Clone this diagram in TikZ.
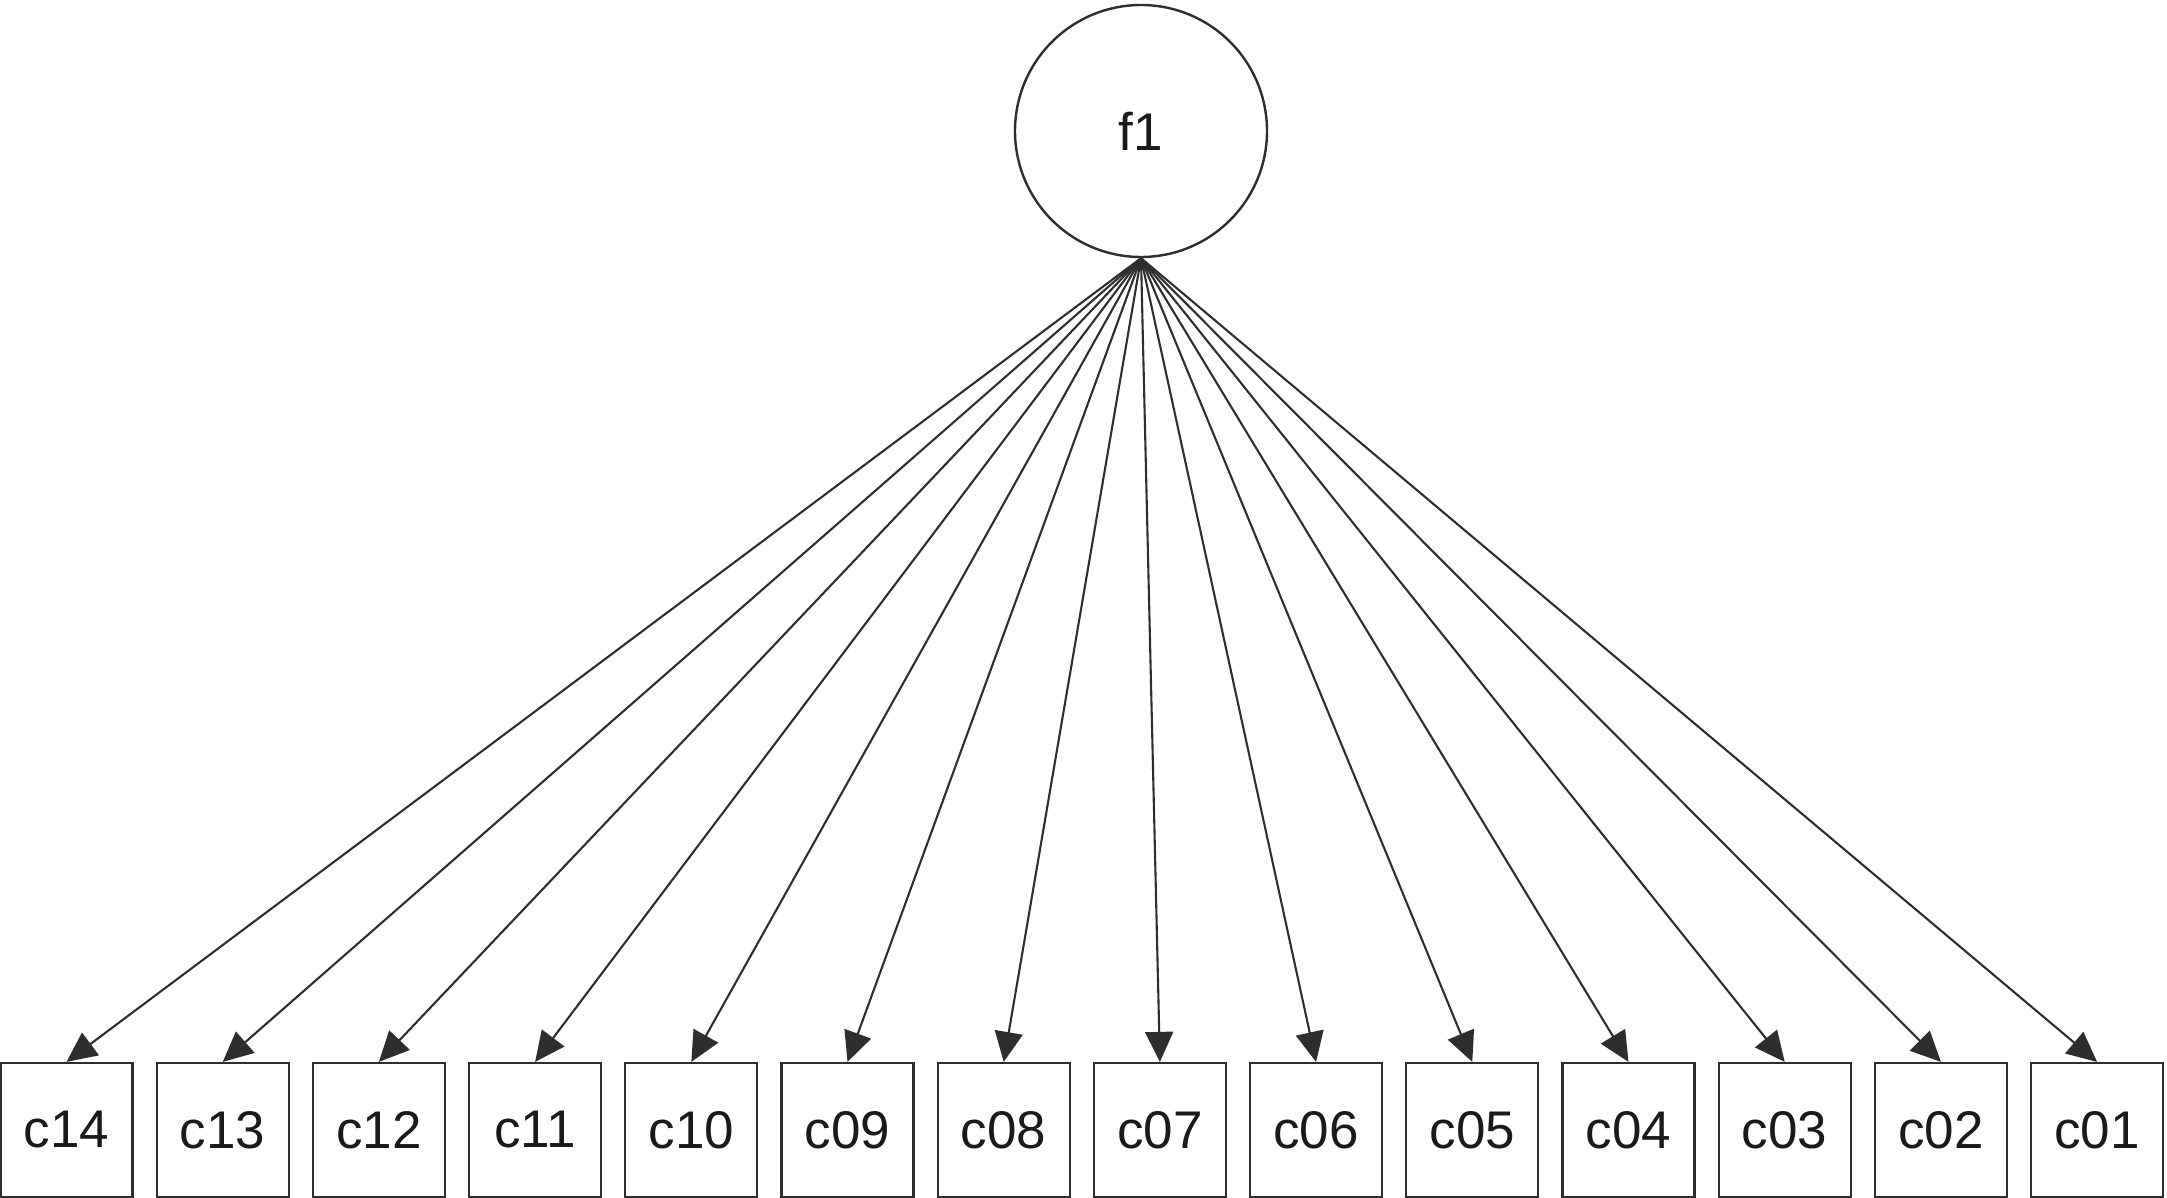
\documentclass[tikz,border=0pt]{standalone}
\usepackage{fontspec}
\setmainfont{Liberation Sans}
\usetikzlibrary{arrows.meta}
\definecolor{linegray}{HTML}{2E2E2E}
\definecolor{textblack}{HTML}{1A1A1A}
\begin{document}
\begin{tikzpicture}[x=0.5pt,y=-0.5pt,
  latent/.style={circle,draw=linegray,line width=1.2pt,minimum size=126pt,inner sep=0pt,
    text=textblack,font=\fontsize{26.5}{30}\selectfont},
  obsbox/.style={rectangle,draw=linegray,line width=1.1pt,minimum width=66pt,minimum height=67pt,
    inner sep=0pt,text=textblack,font=\fontsize{26.5}{30}\selectfont},
  loading/.style={draw=linegray,line width=1.05pt,-{Triangle[length=15pt,width=14pt]}}]
\useasboundingbox (0,0) rectangle (2167,1198);
\node[latent] (f1) at (1141,131) {f1};
\foreach \i/\lab in {0/c14,1/c13,2/c12,3/c11,4/c10,5/c09,6/c08,7/c07,8/c06,9/c05,10/c04,11/c03,12/c02,13/c01}{
  \node[obsbox] (\lab) at ({66.5+156.2*\i},1130) {\lab};
  \draw[loading] (f1.south) -- (\lab.north);
}
\end{tikzpicture}
\end{document}
